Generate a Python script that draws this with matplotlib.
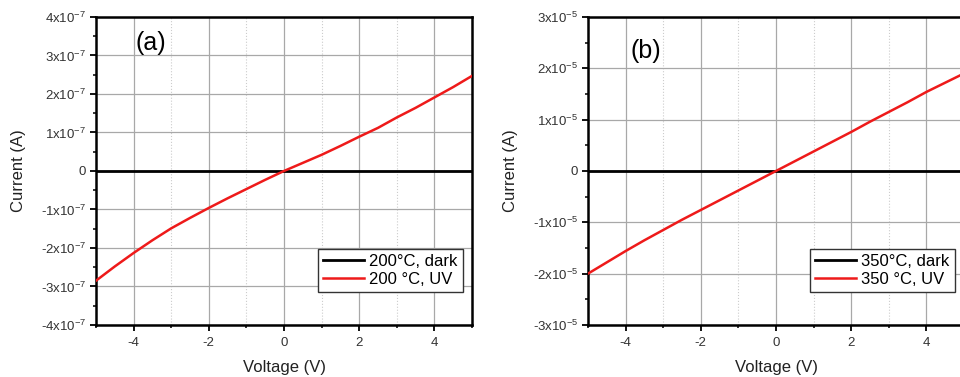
import matplotlib.pyplot as plt
from matplotlib.ticker import MultipleLocator, FuncFormatter

plt.rcParams['font.family'] = ['Liberation Sans', 'DejaVu Sans']
plt.rcParams['mathtext.fontset'] = 'custom'
plt.rcParams['mathtext.rm'] = 'Liberation Sans'
plt.rcParams['mathtext.it'] = 'Liberation Sans'
plt.rcParams['axes.unicode_minus'] = False

# Voltage sweep (V)
voltage = [-5, -4.5, -4, -3.5, -3, -2.5, -2, -1.5, -1, -0.5, 0,
           0.5, 1, 1.5, 2, 2.5, 3, 3.5, 4, 4.5, 5]

# (a) 200 C
dark_a = [0] * len(voltage)
uv_a = [-2.85e-7, -2.48e-7, -2.13e-7, -1.80e-7, -1.49e-7, -1.22e-7, -0.96e-7,
        -0.71e-7, -0.47e-7, -0.23e-7, 0.0, 0.21e-7, 0.42e-7, 0.65e-7, 0.89e-7,
        1.12e-7, 1.39e-7, 1.64e-7, 1.91e-7, 2.18e-7, 2.47e-7]

# (b) 350 C
dark_b = [0] * len(voltage)
uv_b = [-2.00e-5, -1.78e-5, -1.56e-5, -1.35e-5, -1.15e-5, -0.95e-5, -0.76e-5,
        -0.57e-5, -0.38e-5, -0.19e-5, 0.0, 0.19e-5, 0.38e-5, 0.57e-5, 0.76e-5,
        0.96e-5, 1.15e-5, 1.34e-5, 1.54e-5, 1.72e-5, 1.90e-5]

panels = [
    dict(pos=[0.1, 0.138, 0.3917, 0.817], dark=dark_a, uv=uv_a, exp=-7, lim=4,
         tag="(a)", tag_xy=(-3.96, 3.32e-7), labels=["200\u00b0C, dark", "200 \u00b0C, UV"]),
    dict(pos=[0.6125, 0.138, 0.3917, 0.817], dark=dark_b, uv=uv_b, exp=-5, lim=3,
         tag="(b)", tag_xy=(-3.88, 2.34e-5), labels=["350\u00b0C, dark", "350 \u00b0C, UV"]),
]

fig = plt.figure(figsize=(9.6, 3.77), dpi=100)

for p in panels:
    ax = fig.add_axes(p["pos"])
    unit = 10.0 ** p["exp"]
    ax.plot(voltage, p["dark"], color="black", lw=2, label=p["labels"][0], zorder=3)
    ax.plot(voltage, p["uv"], color="#ee1a1a", lw=1.8, label=p["labels"][1], zorder=4)
    ax.set_xlim(-5, 5)
    ax.set_ylim(-p["lim"] * unit, p["lim"] * unit)

    ax.xaxis.set_major_locator(MultipleLocator(2))
    ax.xaxis.set_minor_locator(MultipleLocator(1))
    ax.yaxis.set_major_locator(MultipleLocator(unit))
    ax.yaxis.set_minor_locator(MultipleLocator(unit / 2))

    def fmt(v, pos, unit=unit, e=p["exp"]):
        n = int(round(v / unit))
        if n == 0:
            return "0"
        return "%dx10$^{%d}$" % (n, e)
    ax.yaxis.set_major_formatter(FuncFormatter(fmt))

    ax.grid(which="major", color="#a8a8a8", lw=0.9)
    ax.grid(which="minor", axis="x", color="#cccccc", lw=0.8, ls=":")
    ax.set_axisbelow(True)

    for s in ax.spines.values():
        s.set_linewidth(1.8)
    ax.tick_params(which="major", direction="out", length=4, width=1.3,
                   labelsize=9.5, labelcolor="#333333", pad=3)
    ax.tick_params(axis="x", which="major", pad=5)
    ax.tick_params(which="minor", direction="out", length=2.5, width=1.1)

    ax.set_xlabel("Voltage (V)", fontsize=12, color="#222222", labelpad=7.5)
    ax.set_ylabel("Current (A)", fontsize=12, color="#222222", labelpad=11)
    ax.text(p["tag_xy"][0], p["tag_xy"][1], p["tag"], fontsize=18, va="center", ha="left")

    leg = ax.legend(loc="lower right", bbox_to_anchor=(0.975, 0.107), borderaxespad=0,
                    fontsize=12, handlelength=2.5, handletextpad=0.3, borderpad=0.3,
                    labelspacing=0.2, fancybox=False, framealpha=1, edgecolor="#333333")
    leg.get_frame().set_linewidth(1.0)

fig.savefig("out.png", dpi=100)
